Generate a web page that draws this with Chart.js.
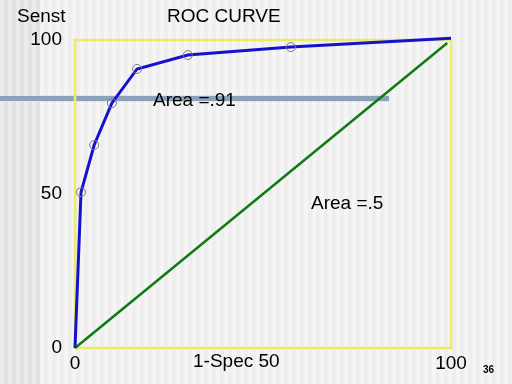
<!DOCTYPE html>
<html>
<head>
<meta charset="utf-8">
<script src="https://cdn.jsdelivr.net/npm/chart.js@4"></script>
<style>
  html, body { margin: 0; padding: 0; background: #f2f2f2; }
  #wrap { width: 512px; height: 384px; }
</style>
</head>
<body>
<div id="wrap"><canvas id="roc"></canvas></div>
<script>
// ---------- data ----------
const fpr = [0, 1.6, 5.1, 9.8, 16.5, 30, 57.4, 100];
const tpr = [0, 50.6, 65.9, 79.5, 90.6, 95.1, 97.7, 100.6];
const markerSize = [0, 4.5, 4.5, 4.5, 4.5, 4.5, 4.5, 0];
const chanceX = [0, 99];
const chanceY = [0, 99];
const axisTicks = [0, 50, 100];

const FONT = "'Liberation Sans', Arial, sans-serif";

// slide decoration: stripes, rule, yellow frame, captions
const slide = {
  id: 'slide',
  beforeDraw(chart) {
    const { ctx, width, height } = chart;
    ctx.save();
    for (let x = 0; x < width; x += 8) {
      const dark = x < 40;
      ctx.fillStyle = dark ? '#ececec' : '#f5f5f5';
      ctx.fillRect(x, 0, 4, height);
      ctx.fillStyle = dark ? '#e2e2e2' : '#eeeeee';
      ctx.fillRect(x + 4, 0, 4, height);
    }
    ctx.restore();
  },
  beforeDatasetsDraw(chart) {
    const { ctx, chartArea: a } = chart;
    ctx.save();
    // horizontal rule
    ctx.fillStyle = '#dde6f0';
    ctx.fillRect(0, 95, 389, 7);
    ctx.fillStyle = '#8ca1ba';
    ctx.fillRect(0, 96, 389, 5);
    // yellow frame
    ctx.strokeStyle = '#ecec6a';
    ctx.lineWidth = 2.5;
    ctx.strokeRect(a.left, a.top, a.right - a.left, a.bottom - a.top);
    ctx.restore();
  },
  afterDraw(chart) {
    const { ctx } = chart;
    ctx.save();
    ctx.fillStyle = '#000';
    ctx.textBaseline = 'middle';
    ctx.font = '19px ' + FONT;
    ctx.textAlign = 'left';
    ctx.fillText('Senst', 17, 17);
    ctx.fillText('ROC CURVE', 167, 17);
    ctx.fillText('Area =.91', 153, 101);
    ctx.fillText('Area =.5', 311, 204);
    ctx.fillText('1-Spec 50', 193, 362);
    ctx.font = 'bold 10px ' + FONT;
    ctx.fillText('36', 483, 370);
    ctx.restore();
  }
};

new Chart(document.getElementById('roc'), {
  type: 'scatter',
  data: {
    datasets: [
      {
        label: 'ROC',
        data: fpr.map((x, i) => ({ x, y: tpr[i] })),
        showLine: true,
        borderColor: '#1212cf',
        borderWidth: 3,
        pointRadius: markerSize,
        pointBorderColor: '#7a7a8a',
        pointBorderWidth: 1,
        pointBackgroundColor: 'rgba(0,0,0,0)',
        clip: false
      },
      {
        label: 'Chance',
        data: chanceX.map((x, i) => ({ x, y: chanceY[i] })),
        showLine: true,
        borderColor: '#127a12',
        borderWidth: 2.5,
        pointRadius: 0,
        clip: false
      }
    ]
  },
  options: {
    responsive: true,
    maintainAspectRatio: false,
    animation: false,
    layout: { padding: { left: 0, top: 40, right: 61, bottom: 0 } },
    plugins: {
      legend: { display: false },
      tooltip: { enabled: false }
    },
    scales: {
      x: {
        type: 'linear',
        min: 0,
        max: 100,
        afterFit: s => { s.height = 36; },
        afterBuildTicks: s => { s.ticks = axisTicks.map(v => ({ value: v })); },
        grid: { display: false, drawTicks: false },
        border: { display: false },
        ticks: {
          color: '#000',
          padding: 4,
          maxRotation: 0,
          font: { family: FONT, size: 19 },
          callback: v => (v === 50 ? '' : v)
        }
      },
      y: {
        type: 'linear',
        min: 0,
        max: 100,
        afterFit: s => { s.width = 75; },
        afterBuildTicks: s => { s.ticks = axisTicks.map(v => ({ value: v })); },
        grid: { display: false, drawTicks: false },
        border: { display: false },
        ticks: {
          color: '#000',
          padding: 13,
          font: { family: FONT, size: 19 }
        }
      }
    }
  },
  plugins: [slide]
});
</script>
</body>
</html>
